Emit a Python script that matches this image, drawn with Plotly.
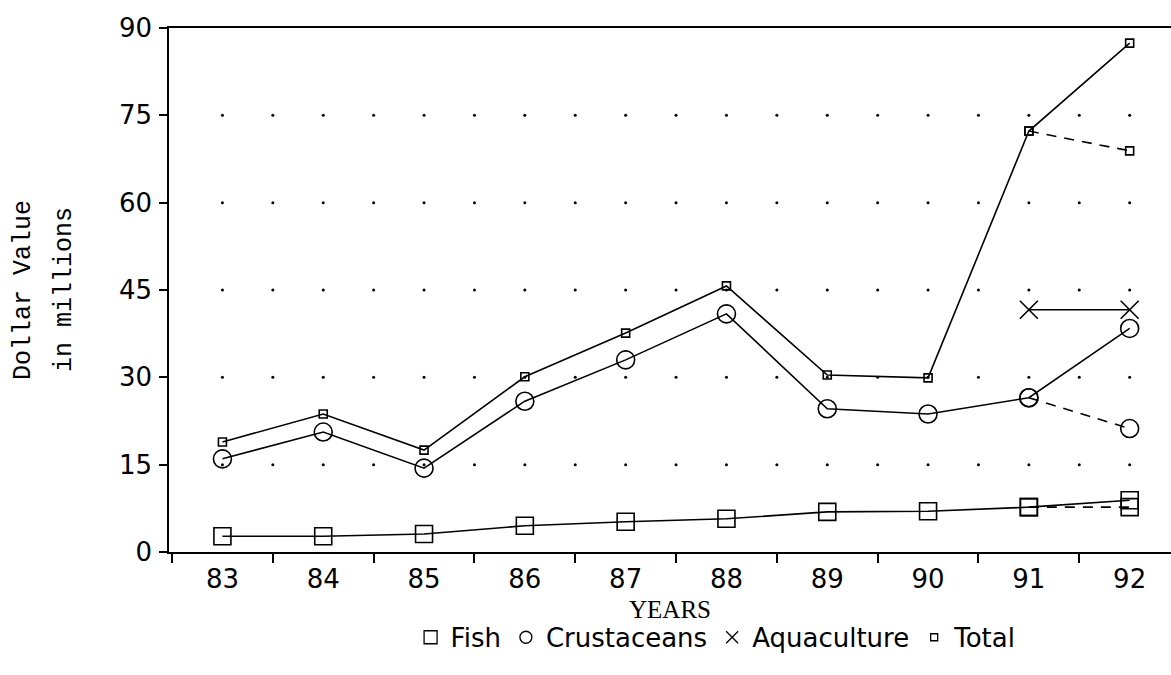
import numpy as np
import plotly.graph_objects as go

years = [83, 84, 85, 86, 87, 88, 89, 90, 91, 92]
fish = [2.7, 2.7, 3.1, 4.5, 5.2, 5.7, 6.9, 7.0, 7.7, 8.9]
crustaceans = [16.0, 20.6, 14.4, 25.9, 33.0, 40.9, 24.6, 23.7, 26.5, 38.4]
total = [18.9, 23.7, 17.5, 30.1, 37.6, 45.7, 30.4, 29.9, 72.3, 87.4]
aqua_years = [91, 92]
aquaculture = [41.6, 41.6]
# dashed alternative 1992 values (from 1991)
alt_years = [91, 92]
fish_alt = [7.7, 7.7]
crustaceans_alt = [26.5, 21.2]
total_alt = [72.3, 68.9]

y_ticks = [0, 15, 30, 45, 60, 75, 90]
x_labels = [str(y) for y in years]
grid_levels = [15, 30, 45, 60, 75]

BLACK = "#000000"
fig = go.Figure()

# dotted grid
gx = np.arange(years[0], years[-1] + 0.01, 0.5)
GX, GY = np.meshgrid(gx, grid_levels)
fig.add_trace(go.Scatter(x=GX.ravel(), y=GY.ravel(), mode="markers",
                         marker=dict(size=3, color=BLACK), showlegend=False,
                         hoverinfo="skip"))

line = dict(color=BLACK, width=1.6)
dline = dict(color=BLACK, width=1.6, dash="10px,8px")

def add(xs, ys, symbol, size, ln):
    fig.add_trace(go.Scatter(
        x=xs, y=ys, mode="lines+markers", line=ln, showlegend=False,
        marker=dict(symbol=symbol, size=size, color=BLACK,
                    line=dict(color=BLACK, width=1.6)),
        cliponaxis=False))

add(alt_years, fish_alt, "square-open", 17, dline)
add(alt_years, crustaceans_alt, "circle-open", 18, dline)
add(alt_years, total_alt, "square-open", 8, dline)
add(years, fish, "square-open", 17, line)
add(years, crustaceans, "circle-open", 18, line)
add(years, total, "square-open", 8, line)
add(aqua_years, aquaculture, "x-thin-open", 18, line)

# legend entries (symbol only)
for name, sym, sz in [("Fish", "square-open", 13), ("Crustaceans", "circle-open", 12),
                      ("Aquaculture", "x-thin-open", 12), ("Total", "square-open", 7)]:
    fig.add_trace(go.Scatter(x=[None], y=[None], mode="markers", name=name,
                             marker=dict(symbol=sym, size=sz, color=BLACK,
                                         line=dict(color=BLACK, width=1.3))))

fig.update_layout(
    width=1171, height=675,
    margin=dict(l=169, r=0, t=28, b=123),
    paper_bgcolor="white", plot_bgcolor="white",
    font=dict(family="DejaVu Sans", color=BLACK, size=24),
    legend=dict(orientation="h", x=0.546, xanchor="center", y=-0.118, yanchor="top",
                font=dict(size=26, family="DejaVu Sans"), itemsizing="trace",
                traceorder="normal", itemwidth=30),
    xaxis=dict(range=[82.47, 92.41], tickmode="array", tickvals=years,
               ticktext=x_labels, ticks="", showgrid=False, zeroline=False,
               showline=True, linecolor=BLACK, linewidth=1.5, mirror=True,
               tickfont=dict(size=26), ticklabelstandoff=3,
               minor=dict(tickmode="array",
                          tickvals=[82.5] + [y + 0.5 for y in years[:-1]],
                          ticks="outside", ticklen=9, tickwidth=1.5, tickcolor=BLACK,
                          showgrid=False),
               title=dict(text="YEARS", font=dict(family="Liberation Serif", size=25),
                          standoff=8)),
    yaxis=dict(range=[0, 90], tickmode="array", tickvals=y_ticks, ticks="outside",
               ticklen=8, tickwidth=1.5, tickcolor=BLACK, showgrid=False,
               zeroline=False, showline=True, linecolor=BLACK, linewidth=1.5,
               tickfont=dict(size=26), ticklabelstandoff=2),
    annotations=[
        dict(text="Dollar Value", x=0, xref="paper", y=0.5, yref="paper",
             xshift=-146, textangle=-90, showarrow=False, xanchor="center",
             yanchor="middle", font=dict(family="Liberation Mono", size=25)),
        dict(text="in millions", x=0, xref="paper", y=0.5, yref="paper",
             xshift=-105, textangle=-90, showarrow=False, xanchor="center",
             yanchor="middle", font=dict(family="Liberation Mono", size=25)),
    ],
)

fig.write_html("out.html", config={"displayModeBar": False},
               post_script="document.body.style.margin='0px';")
